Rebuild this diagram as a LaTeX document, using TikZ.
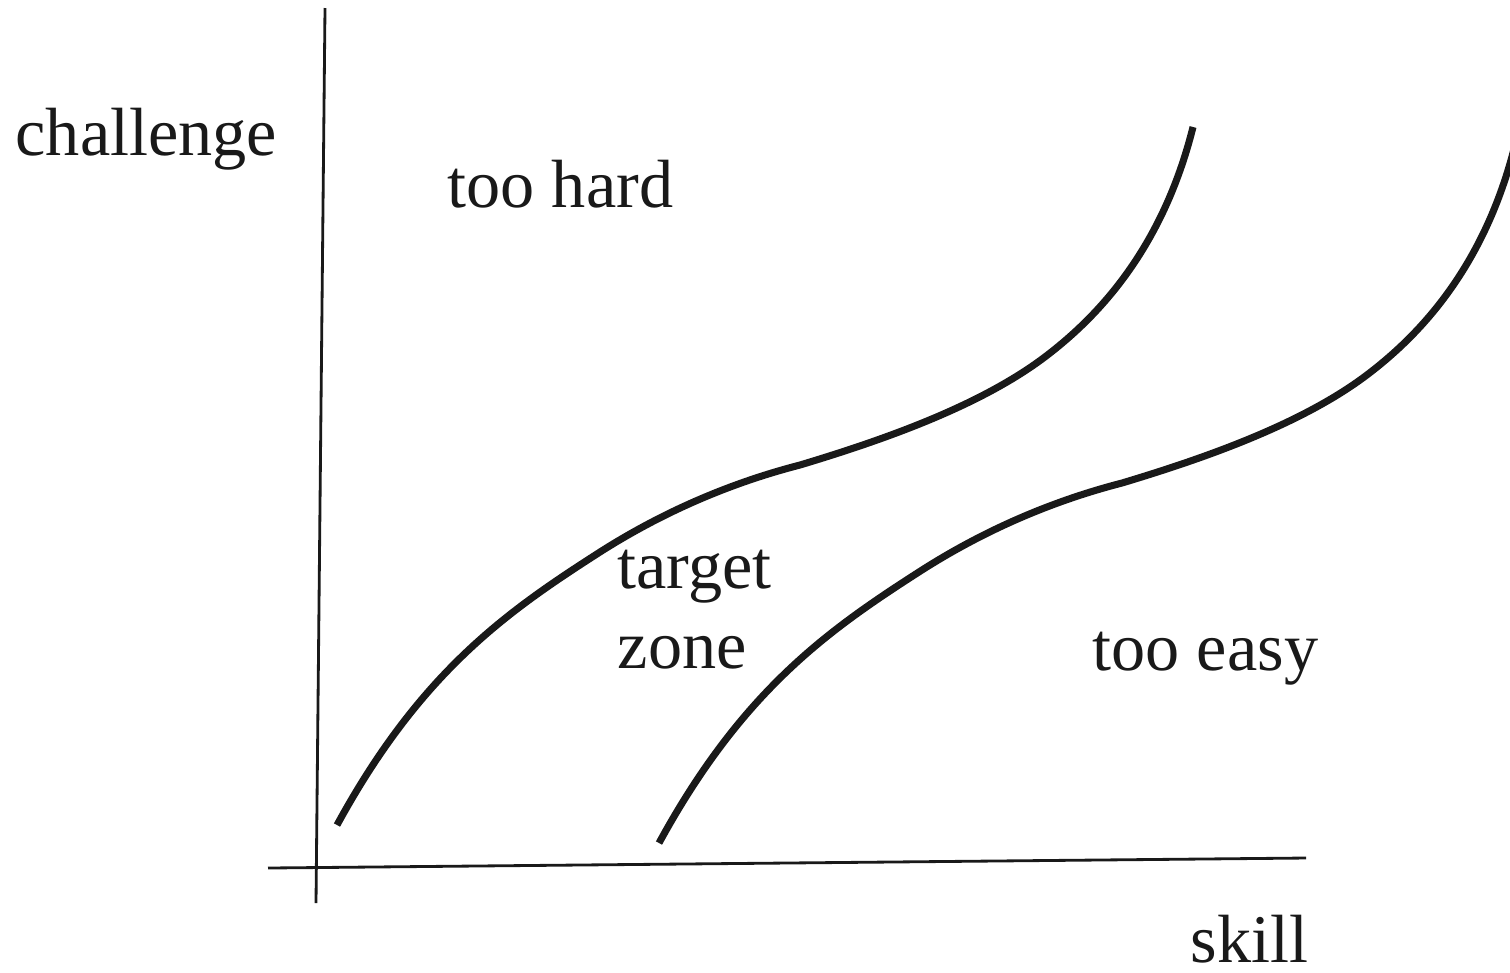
\documentclass[tikz,border=0pt]{standalone}
\usepackage{fontspec}
\setmainfont{Liberation Serif}
\tikzset{
  axisline/.style={line width=0.8pt, black!90},
  curveline/.style={line width=2pt, black!90, line cap=butt},
  lbl/.style={anchor=base west, inner sep=0pt, font=\fontsize{19.4}{23}\selectfont, text=black!90}
}
\newcommand{\zonecurve}{(337,825) .. controls (421,671) and (508,611) .. (600,552)
 .. controls (666,510) and (734,482) .. (800,465)
 .. controls (883,440) and (984,405) .. (1050,353)
 .. controls (1100,314) and (1163,247) .. (1193,127)}
\begin{document}
\begin{tikzpicture}[x=0.01cm,y=-0.01cm]
\useasboundingbox (0,0) rectangle (1510,972);
\clip (0,0) rectangle (1510,972);
% axes
\coordinate (ytop) at (325,8);
\coordinate (ybot) at (316,903);
\coordinate (xleft) at (268,868);
\coordinate (xright) at (1306,858);
\draw[axisline] (ytop) -- (ybot);
\draw[axisline] (xleft) -- (xright);
% curves
\draw[curveline] \zonecurve;
\draw[curveline, shift={(322,18)}] \zonecurve;
% labels
\node[lbl] (challenge) at (15,155) {challenge};
\node[lbl] (hard) at (447,207) {too hard};
\node[lbl] (target) at (617,588) {target};
\node[lbl] (zone) at (617,668) {zone};
\node[lbl] (easy) at (1092,670) {too easy};
\node[lbl] (skill) at (1190,962) {skill};
\end{tikzpicture}
\end{document}
